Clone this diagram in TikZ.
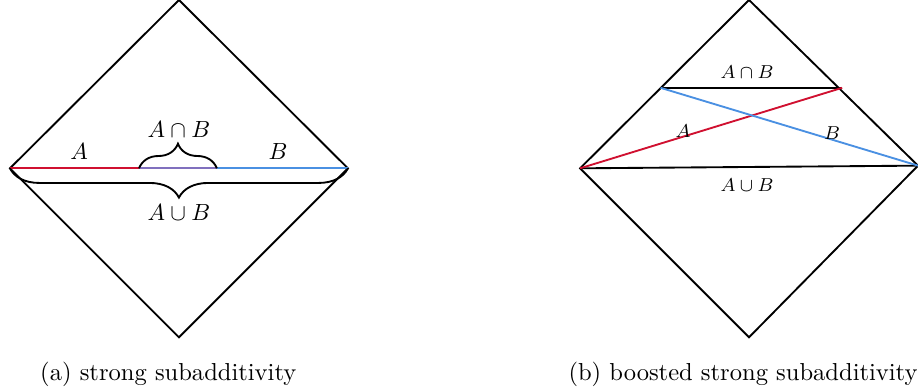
\documentclass[tikz,border=0pt]{standalone}
\usepackage{amsmath,amssymb}
\usetikzlibrary{decorations.pathreplacing}
\definecolor{regA}{RGB}{208,16,48}
\definecolor{regB}{RGB}{74,144,226}
\definecolor{regAB}{RGB}{128,112,190}

\begin{document}
\begin{tikzpicture}[scale=1]
	  \useasboundingbox (0,0) rectangle (13.80,-5.88);
	  \tikzset{wedge/.style={thick},
	    caption/.style={font=\fontsize{10.5}{12}\selectfont},
	    curly/.style={thick,decorate,decoration={brace,amplitude=#1}}}
	  % (a) strong subadditivity
	  \coordinate (aL) at (0.15,-2.53);
	  \coordinate (aT) at (2.69,0);
	  \coordinate (aR) at (5.23,-2.53);
	  \coordinate (aB) at (2.69,-5.07);
	  \coordinate (a1) at (2.09,-2.53);
	  \coordinate (a2) at (3.26,-2.53);
	  \draw[wedge] (aL) -- (aT) -- (aR) -- (aB) -- cycle;
	  \draw[thick,regA] (aL) -- (a1);
	  \draw[thick,regB] (a2) -- (aR);
	  \draw[thick,regAB] (a1) -- (a2);
	  \draw[curly=0.37cm] (a1) -- (a2);
	  \draw[curly=0.44cm] (aR) -- (aL);
	  \node (lA) at (1.19,-2.27) {$A$};
	  \node (lB) at (4.18,-2.27) {$B$};
	  \node (lAnB) at (2.69,-1.95) {$A\cap B$};
	  \node (lAuB) at (2.69,-3.19) {$A\cup B$};
	  \node[caption] (capa) at (2.53,-5.62) {(a) strong subadditivity};
	  % (b) boosted strong subadditivity
	  \coordinate (bL) at (8.72,-2.53);
	  \coordinate (bT) at (11.26,0);
	  \coordinate (bR) at (13.80,-2.49);
	  \coordinate (bB) at (11.26,-5.07);
	  \coordinate (bP) at (9.93,-1.32);
	  \coordinate (bQ) at (12.66,-1.32);
	  \draw[wedge] (bL) -- (bT) -- (bR) -- (bB) -- cycle;
	  \draw[thick] (bL) -- (bR);
	  \draw[thick] (bP) -- (bQ);
	  \draw[thick,regA] (bL) -- (bQ);
	  \draw[thick,regB] (bP) -- (bR);
	  \node[font=\footnotesize] (mA) at (10.27,-1.97) {$A$};
	  \node[font=\footnotesize] (mB) at (12.51,-2.0) {$B$};
	  \node[font=\footnotesize] (mAnB) at (11.23,-1.08) {$A\cap B$};
	  \node[font=\footnotesize] (mAuB) at (11.23,-2.78) {$A\cup B$};
	  \node[caption] (capb) at (11.17,-5.62) {(b) boosted strong subadditivity};
	\end{tikzpicture}
\end{document}
